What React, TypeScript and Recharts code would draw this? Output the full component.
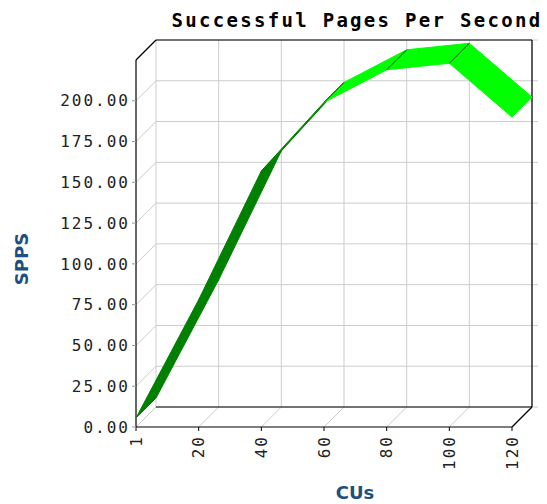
import { LineChart, Line, XAxis, YAxis, CartesianGrid } from "recharts";

// CUs on the x axis, successful pages per second on the y axis
const cus = ["1", "20", "40", "60", "80", "100", "120"];
const spps = [5.5, 78, 157, 199, 219, 223, 190];
const yTicks = [0, 25, 50, 75, 100, 125, 150, 175, 200];
const yMax = 225;

const data = cus.map((cu, i) => ({ cu, spps: spps[i] }));

const W = 547;
const H = 504;
const M = { top: 60, right: 35, bottom: 0, left: 0 };
const Y_AXIS_W = 136;
const X_AXIS_H = 77;
// depth of the fake 3D box
const DX = 20;
const DY = -20;

const BRIGHT = "#00ff00";
const DARK = "#008000";
const EDGE = "#0a4d0a";
const GRID = "#cccccc";
const BLUE = "#1e4f80";
const MONO = "'DejaVu Sans Mono', monospace";

// back wall + left wall lines for each y tick
const backHLine = (p: any) => {
  const { x1, x2, y1, index } = p;
  return (
    <g key={`h-${index}`}>
      <line x1={x1} y1={y1} x2={x1 + DX} y2={y1 + DY} stroke={GRID} />
      <line x1={x1 + DX} y1={y1 + DY} x2={x2 + DX + 6} y2={y1 + DY} stroke={GRID} />
    </g>
  );
};

// back wall + floor lines for each x tick
const backVLine = (p: any) => {
  const { x1, y1, y2, index } = p;
  return (
    <g key={`v-${index}`}>
      <line x1={x1} y1={y2} x2={x1 + DX} y2={y2 + DY} stroke={GRID} />
      <line x1={x1 + DX} y1={y1 + DY} x2={x1 + DX} y2={y2 + DY} stroke={GRID} />
    </g>
  );
};

// black outline of the box, drawn once
const frameLine = (p: any) => {
  if (p.index !== 0) return <g key={`f-${p.index}`} />;
  const left = p.x1;
  const top = p.y1;
  const bottom = p.y2;
  const right = W - M.right;
  return (
    <g key="frame" stroke="#000" strokeWidth={1.2}>
      <line x1={left} y1={top} x2={left + DX} y2={top + DY} />
      <line x1={left + DX} y1={top + DY} x2={right + DX} y2={top + DY} />
      <line x1={right + DX} y1={top + DY} x2={right + DX} y2={bottom + DY} />
      <line x1={left + DX} y1={bottom + DY} x2={right + DX} y2={bottom + DY} />
      <line x1={right} y1={bottom} x2={right + DX} y2={bottom + DY} />
    </g>
  );
};

let lastPt: { x: number; y: number } | null = null;

// each dot draws the ribbon face between the previous point and this one
const ribbonSegment = (p: any) => {
  const { index, cx, cy, points } = p;
  const prev = points ? (index > 0 ? points[index - 1] : null) : index > 0 ? lastPt : null;
  lastPt = { x: cx, y: cy };
  if (!prev) return <g key={`r-${index}`} />;
  const a = { x: prev.x, y: prev.y };
  const b = { x: cx, y: cy };
  const dx = b.x - a.x;
  const dy = b.y - a.y;
  const underside = dx + dy < 0; // steeper than the depth direction
  const fill = underside ? DARK : BRIGHT;
  const pts = [
    [a.x, a.y],
    [b.x, b.y],
    [b.x + DX, b.y + DY],
    [a.x + DX, a.y + DY],
  ]
    .map((q) => q.join(","))
    .join(" ");
  return (
    <g key={`r-${index}`}>
      <polygon points={pts} fill={fill} stroke={fill} strokeWidth={1} />
      {!underside && index > 1 && (
        <line x1={a.x} y1={a.y} x2={a.x + DX} y2={a.y + DY} stroke={EDGE} strokeWidth={1} />
      )}
    </g>
  );
};

const XTick = (p: any) => {
  const { x, y, payload } = p;
  const ty = y + 2;
  return (
    <text
      x={x}
      y={ty}
      transform={`rotate(-90 ${x} ${ty})`}
      textAnchor="end"
      dominantBaseline="central"
      fontFamily={MONO}
      fontSize={16}
      letterSpacing={2}
      fill="#222"
    >
      {payload.value}
    </text>
  );
};

export default function App() {
  return (
    <div style={{ position: "absolute", left: 0, top: 0, width: W, height: H, background: "#fff" }}>
      <LineChart width={W} height={H} data={data} margin={M}>
        <CartesianGrid horizontal={backHLine} vertical={backVLine} />
        <CartesianGrid horizontal={false} vertical={frameLine} />
        <Line
          dataKey="spps"
          stroke="none"
          dot={ribbonSegment}
          activeDot={false}
          isAnimationActive={false}
        />
        <XAxis
          dataKey="cu"
          type="category"
          scale="point"
          interval={0}
          height={X_AXIS_H}
          tickSize={4}
          axisLine={{ stroke: "#000", strokeWidth: 1.2 }}
          tickLine={{ stroke: "#000" }}
          tick={<XTick />}
        />
        <YAxis
          domain={[0, yMax]}
          ticks={yTicks}
          width={Y_AXIS_W}
          tickSize={4}
          tickMargin={2}
          axisLine={{ stroke: "#000", strokeWidth: 1.2 }}
          tickLine={{ stroke: "#999" }}
          tickFormatter={(v: number) => v.toFixed(2)}
          tick={{ fontFamily: MONO, fontSize: 16, fill: "#222", letterSpacing: 2 }}
        />
      </LineChart>
      <svg
        width={W}
        height={H}
        style={{ position: "absolute", left: 0, top: 0, pointerEvents: "none" }}
      >
        <text
          x={357}
          y={27}
          textAnchor="middle"
          fontFamily={MONO}
          fontWeight="bold"
          fontSize={19}
          letterSpacing={2.3}
          fill="#000"
        >
          Successful Pages Per Second
        </text>
        <text
          x={21}
          y={259}
          transform="rotate(-90 21 259)"
          textAnchor="middle"
          dominantBaseline="central"
          fontFamily="'DejaVu Sans', sans-serif"
          fontWeight="bold"
          fontSize={18}
          fill={BLUE}
        >
          SPPS
        </text>
        <text
          x={355}
          y={499}
          textAnchor="middle"
          fontFamily="'DejaVu Sans', sans-serif"
          fontWeight="bold"
          fontSize={18}
          fill={BLUE}
        >
          CUs
        </text>
      </svg>
    </div>
  );
}
